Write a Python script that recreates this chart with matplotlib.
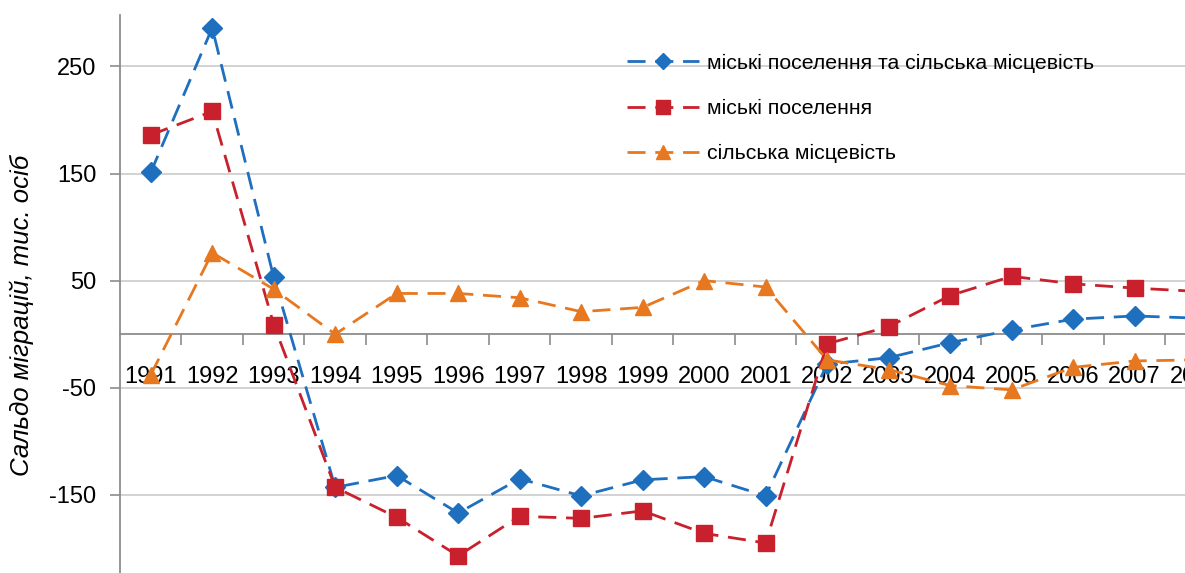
import matplotlib
matplotlib.use("Agg")
import matplotlib.pyplot as plt

years = ["1991", "1992", "1993", "1994", "1995", "1996", "1997", "1998", "1999",
         "2000", "2001", "2002", "2003", "2004", "2005", "2006", "2007", "2008"]

total = [151, 286, 53, -143, -132, -167, -135, -151, -136, -133, -151,
         -28, -22, -8, 4, 14, 17, 15]
urban = [186, 208, 9, -143, -171, -207, -170, -172, -165, -186, -195,
         -9, 7, 36, 54, 47, 43, 40]
rural = [-38, 76, 42, 0, 38, 38, 34, 21, 25, 50, 44,
         -24, -33, -48, -52, -31, -25, -24]

labels = ["міські поселення та сільська місцевість",
          "міські поселення",
          "сільська місцевість"]
yticks = [250, 150, 50, -50, -150]

plt.rcParams['font.family'] = ['Liberation Sans', 'DejaVu Sans']

fig = plt.figure(figsize=(11.85, 5.73), dpi=100)
ax = fig.add_axes([120 / 1185, 0.0, 1 - 120 / 1185, 1 - 15 / 573])

x = list(range(len(years)))
styles = [
    (total, "#1f6fbf", "D", 10),
    (urban, "#c8202c", "s", 12),
    (rural, "#e8781f", "^", 12),
]
handles = []
for (vals, col, mk, ms), lab in zip(styles, labels):
    ln, = ax.plot(x, vals, color=col, lw=2.0, dashes=(6.5, 3.5),
                  marker=mk, markersize=ms, markeredgecolor=col,
                  markerfacecolor=col, label=lab, zorder=3)
    handles.append(ln)

ax.set_xlim(-0.5, 16.82)
ax.set_ylim(-223, 298)

# y axis
ax.set_yticks(yticks)
ax.set_yticklabels([str(v) for v in yticks], fontsize=17)
ax.tick_params(axis='y', direction='out', length=7, width=1.2,
               color='#8c8c8c', pad=10)
ax.grid(axis='y', color='#cfcfcf', lw=1.3, zorder=0)

# x axis drawn through zero, ticks between categories
ax.spines['bottom'].set_position(('data', 0))
ax.spines['bottom'].set_color('#8c8c8c')
ax.spines['bottom'].set_linewidth(1.3)
ax.spines['left'].set_color('#8c8c8c')
ax.spines['left'].set_linewidth(1.3)
ax.spines['top'].set_visible(False)
ax.spines['right'].set_visible(False)
ax.set_xticks([i + 0.5 for i in range(len(years) - 1)])
ax.set_xticklabels([])
ax.tick_params(axis='x', direction='out', length=8, width=1.2, color='#8c8c8c')
for i, yr in enumerate(years):
    ax.annotate(yr, xy=(i, 0), xytext=(0, -32), textcoords='offset pixels',
                ha='center', va='top', fontsize=17, annotation_clip=False,
                zorder=1)

fig.text(22 / 1185, 1 - 315 / 573, "Сальдо міграцій, тис. осіб", rotation=90,
         ha='center', va='center', fontsize=18.5, style='italic')

ax.legend(handles=handles, loc='upper left', bbox_to_anchor=(488 / 1065, 0.965),
          frameon=False, fontsize=15.3, numpoints=1, handlelength=3.4,
          handletextpad=0.35, labelspacing=1.24, markerscale=0.8)

fig.savefig("out.png", dpi=100)
